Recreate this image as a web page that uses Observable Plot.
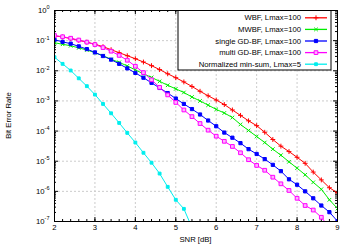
<!DOCTYPE html>
<html>
<head>
<meta charset="utf-8">
<script src="https://cdn.jsdelivr.net/npm/d3@7"></script>
<script src="https://cdn.jsdelivr.net/npm/@observablehq/plot@0.6"></script>
<style>
  html, body { margin: 0; padding: 0; background: #fff; }
  svg { display: block; }
</style>
</head>
<body>
<div id="chart"></div>
<script>
// SNR values [dB]
const snr = [2.0,2.2,2.4,2.6,2.8,3.0,3.2,3.4,3.6,3.8,4.0,4.2,4.4,4.6,4.8,5.0,5.2,5.4,5.6,5.8,6.0,6.2,6.4,6.6,6.8,7.0,7.2,7.4,7.6,7.8,8.0,8.2,8.4,8.6,8.8,9.0];

// log10(Bit Error Rate)
const wbfLog = [-0.84,-0.88,-0.93,-0.99,-1.05,-1.12,-1.20,-1.30,-1.40,-1.50,-1.60,-1.71,-1.83,-1.96,-2.10,-2.23,-2.37,-2.52,-2.68,-2.83,-2.97,-3.12,-3.30,-3.48,-3.66,-3.82,-4.04,-4.28,-4.50,-4.68,-4.87,-5.07,-5.36,-5.62,-5.88,-6.05];
const mwbfLog = [-1.07,-1.12,-1.17,-1.24,-1.31,-1.40,-1.50,-1.62,-1.72,-1.84,-1.97,-2.10,-2.22,-2.35,-2.48,-2.60,-2.72,-2.87,-3.00,-3.14,-3.28,-3.40,-3.55,-3.78,-3.98,-4.18,-4.38,-4.60,-4.80,-5.02,-5.23,-5.45,-5.70,-5.93,-6.28,-6.57];
const singleLog = [-0.97,-1.04,-1.10,-1.19,-1.28,-1.39,-1.51,-1.63,-1.77,-1.92,-2.07,-2.23,-2.40,-2.57,-2.74,-2.92,-3.10,-3.27,-3.45,-3.65,-3.84,-4.05,-4.22,-4.40,-4.60,-4.76,-4.93,-5.12,-5.33,-5.60,-5.78,-6.00,-6.23,-6.47,-6.69,-6.99];
const multiLog = [-0.83,-0.87,-0.92,-0.98,-1.05,-1.13,-1.23,-1.35,-1.49,-1.65,-1.85,-2.06,-2.30,-2.55,-2.80,-3.05,-3.30,-3.52,-3.75,-3.97,-4.17,-4.34,-4.51,-4.72,-4.95,-5.14,-5.30,-5.53,-5.75,-5.97,-6.23,-6.47,-6.62,-6.86,-7.20];
const nmsLog = [-1.55,-1.77,-1.99,-2.25,-2.51,-2.79,-3.10,-3.41,-3.73,-4.06,-4.38,-4.72,-5.05,-5.41,-5.85,-6.28,-6.58,-7.20];

const seriesNames = ["WBF, Lmax=100","MWBF, Lmax=100","single GD-BF, Lmax=100","multi GD-BF, Lmax=100","Normalized min-sum, Lmax=5"];
const seriesLogs = [wbfLog, mwbfLog, singleLog, multiLog, nmsLog];
const seriesColors = ["#ff0000","#00ee00","#0000ff","#ff00ff","#00eeee"];
const seriesSymbols = ["plus","times","square","square","square"];
const seriesFill = ["none","none","#0000ff","#ffb0ff","#00eeee"];
const seriesR = [1.7,1.8,1.8,2.1,1.6];

// tick values
const xMajor = [2,3,4,5,6,7,8,9];
const yMajor = [1e-7,1e-6,1e-5,1e-4,1e-3,1e-2,1e-1,1];

const xMinor = d3.range(20, 91, 2).map(v => v / 10);
const yMinor = [];
for (let e = -7; e < 0; e++) for (let m = 2; m <= 9; m++) yMinor.push(m * Math.pow(10, e));

const W = 350, H = 245, mL = 54, mR = 13, mT = 10, mB = 24;
const fw = W - mL - mR, fh = H - mT - mB;
const FS = 7.7;

const series = seriesNames.map((name, k) => ({
  name, color: seriesColors[k], symbol: seriesSymbols[k], fill: seriesFill[k], r: seriesR[k],
  data: seriesLogs[k].map((v, i) => ({snr: snr[i], ber: Math.pow(10, v)}))
}));

const marks = [
  Plot.gridX(xMajor.slice(1, -1), {stroke: "#cccccc", strokeOpacity: 1, strokeDasharray: "2,2"}),
  Plot.gridY(yMajor.slice(1, -1), {stroke: "#cccccc", strokeOpacity: 1, strokeDasharray: "2,2"}),
  // inward ticks on all four sides
  Plot.ruleX(xMajor, {insetTop: fh - 4, stroke: "black"}),
  Plot.ruleX(xMajor, {insetBottom: fh - 4, stroke: "black"}),
  Plot.ruleX(xMinor, {insetTop: fh - 2, stroke: "black"}),
  Plot.ruleX(xMinor, {insetBottom: fh - 2, stroke: "black"}),
  Plot.ruleY(yMajor, {insetRight: fw - 4, stroke: "black"}),
  Plot.ruleY(yMajor, {insetLeft: fw - 4, stroke: "black"}),
  Plot.ruleY(yMinor, {insetRight: fw - 2, stroke: "black"}),
  Plot.ruleY(yMinor, {insetLeft: fw - 2, stroke: "black"}),
  Plot.axisX({ticks: xMajor, tickSize: 0, tickPadding: 3, tickFormat: d => String(d), label: null, fontSize: FS}),
  Plot.axisY({ticks: yMajor, tickSize: 0, tickPadding: 5, tickFormat: d => "10^" + Math.round(Math.log10(d)), label: null, fontSize: FS}),
];
for (const s of series) {
  marks.push(Plot.line(s.data, {x: "snr", y: "ber", stroke: s.color, strokeWidth: 1, clip: true}));
}
for (const s of series) {
  marks.push(Plot.dot(s.data, {x: "snr", y: "ber", symbol: s.symbol, r: s.r, stroke: s.color, strokeWidth: 1, fill: s.fill, clip: true}));
}
marks.push(Plot.frame({stroke: "black", strokeWidth: 1}));

const chart = Plot.plot({
  width: W, height: H,
  marginLeft: mL, marginRight: mR, marginTop: mT, marginBottom: mB,
  style: {fontFamily: "'Liberation Sans', Arial, sans-serif", fontSize: FS + "px", background: "white", color: "black"},
  x: {domain: [2, 9], label: null},
  y: {type: "log", domain: [1e-7, 1], label: null},
  marks
});

document.getElementById("chart").appendChild(chart);

const svg = d3.select(chart);

// superscript exponents on y tick labels
svg.selectAll("g[aria-label='y-axis tick label'] text").each(function() {
  const t = this.textContent;
  if (!t.startsWith("10^")) return;
  const exp = t.slice(3);
  const el = d3.select(this);
  el.text("");
  el.append("tspan").text("10");
  el.append("tspan").attr("dy", "-3.5").attr("font-size", "5.5").text(exp);
});

// axis titles
svg.append("text")
  .attr("x", mL + fw / 2).attr("y", H - 3)
  .attr("text-anchor", "middle").attr("font-size", FS).attr("fill", "black")
  .text("SNR [dB]");
svg.append("text")
  .attr("transform", `translate(11,${mT + fh / 2}) rotate(-90)`)
  .attr("text-anchor", "middle").attr("font-size", FS).attr("fill", "black")
  .text("Bit Error Rate");

// legend
const lg = svg.append("g");
const lx = 178, ly = 10.5, lw = 153, lh = 59.5;
lg.append("rect").attr("x", lx).attr("y", ly).attr("width", lw).attr("height", lh)
  .attr("fill", "white").attr("stroke", "black").attr("stroke-width", 1);
series.forEach((s, i) => {
  const yy = 17.8 + i * 11.6;
  lg.append("text").attr("x", 301).attr("y", yy).attr("dy", "0.35em")
    .attr("text-anchor", "end").attr("font-size", FS).attr("fill", "black").text(s.name);
  lg.append("line").attr("x1", 305).attr("x2", 327).attr("y1", yy).attr("y2", yy)
    .attr("stroke", s.color).attr("stroke-width", 1.3);
  const sym = {plus: d3.symbolPlus, times: d3.symbolTimes, square: d3.symbolSquare}[s.symbol];
  lg.append("path").attr("transform", `translate(316,${yy})`)
    .attr("d", d3.symbol(sym, Math.PI * s.r * s.r)())
    .attr("stroke", s.color).attr("fill", s.fill).attr("stroke-width", 1);
});
</script>
</body>
</html>
